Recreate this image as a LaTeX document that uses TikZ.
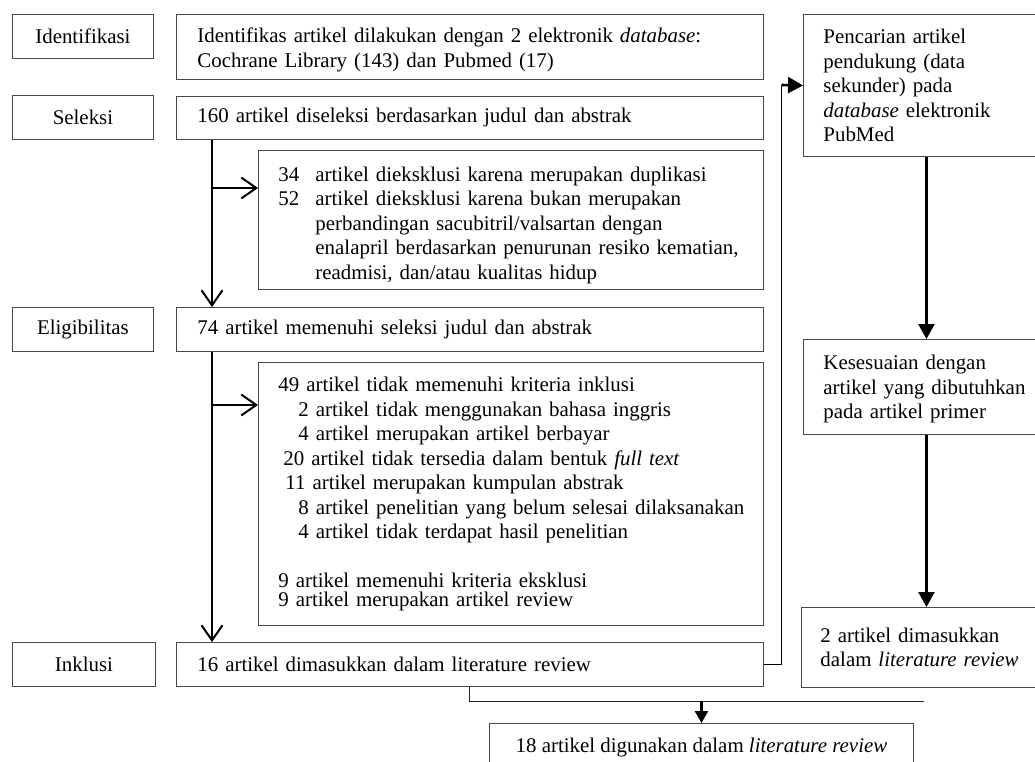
\documentclass[tikz,border=0pt]{standalone}
\usepackage{fontspec}
\setmainfont{Liberation Serif}
\usetikzlibrary{arrows.meta}
\begin{document}
\begin{tikzpicture}[x=1pt,y=-1pt,
  font=\fontsize{20.9}{24.5}\selectfont,
  bx/.style={draw=black!72, line width=0.9pt, anchor=north west, inner ysep=0pt},
  lbl/.style={bx, inner xsep=0pt, align=center, text width=141pt, minimum width=141pt, minimum height=44pt},
  mainbox/.style={bx, inner xsep=21pt, text width=545pt, align=left, minimum width=587pt},
  exbox/.style={bx, inner xsep=20pt, text width=465pt, align=left, minimum width=505pt},
  sidebox/.style={bx, inner xsep=20pt, text width=206pt, align=left, minimum width=246pt},
  flowarrow/.style={line width=2pt, -{Straight Barb[length=15pt,width=21pt]}},
  solidarrow/.style={line width=2.6pt, -{Triangle[length=15pt,width=16pt]}},
  smallarrow/.style={line width=2.5pt, -{Triangle[length=12pt,width=13pt]}},
  thinline/.style={line width=1pt, draw=black!85}]
\useasboundingbox (0,0) rectangle (1035,762);
\fill[white] (0,0) rectangle (1035,762);

% stage labels
\node[lbl] (lid) at (12,14) {Identifikasi};
\node[lbl] (lsel) at (12,95) {Seleksi};
\node[lbl] (lel) at (12,307) {Eligibilitas};
\node[lbl, minimum width=143pt, text width=143pt] (linc) at (12,642) {Inklusi};

% main column
\node[mainbox, minimum height=65pt] (idm) at (176,14) {\rule{0pt}{21pt}Identifikas artikel dilakukan dengan 2 elektronik \textit{database}:\\Cochrane Library (143) dan Pubmed (17)};
\node[mainbox, minimum height=43pt] (selm) at (176,96) {160 artikel diseleksi berdasarkan judul dan abstrak};
\node[exbox, minimum height=139pt] (ex1) at (258,150) {\mbox{\rule{0pt}{25pt}\makebox[37pt][l]{34}artikel dieksklusi karena merupakan duplikasi}\\
\mbox{\makebox[37pt][l]{52}artikel dieksklusi karena bukan merupakan}\\
\mbox{\hspace*{37pt}perbandingan sacubitril/valsartan dengan}\\
\mbox{\hspace*{37pt}enalapril berdasarkan penurunan resiko kematian,}\\
\mbox{\hspace*{37pt}readmisi, dan/atau kualitas hidup}};
\node[mainbox, minimum height=44pt] (elm) at (176,307) {74 artikel memenuhi seleksi judul dan abstrak};
\node[exbox, minimum height=263pt] (ex2) at (258,362) {\mbox{49 artikel tidak memenuhi kriteria inklusi}\\
\mbox{\hspace*{20pt}2 artikel tidak menggunakan bahasa inggris}\\
\mbox{\hspace*{20pt}4 artikel merupakan artikel berbayar}\\
\mbox{\hspace*{5pt}20 artikel tidak tersedia dalam bentuk \textit{full text}}\\
\mbox{\hspace*{7pt}11 artikel merupakan kumpulan abstrak}\\
\mbox{\hspace*{20pt}8 artikel penelitian yang belum selesai dilaksanakan}\\
\mbox{\hspace*{20pt}4 artikel tidak terdapat hasil penelitian}\\[24pt]
\mbox{9 artikel memenuhi kriteria eksklusi}\\[-5.5pt]
\mbox{9 artikel merupakan artikel review}};
\node[mainbox, minimum height=44pt] (incm) at (176,642) {16 artikel dimasukkan dalam literature review};

% right column
\node[sidebox, minimum height=142pt] (pc) at (803,14) {Pencarian artikel\\pendukung (data\\sekunder) pada\\\textit{database} elektronik\\PubMed};
\node[sidebox, minimum height=95pt] (kes) at (803,339) {\rule{0pt}{19.5pt}Kesesuaian dengan\\\mbox{artikel yang dibutuhkan}\\pada artikel primer};
\node[sidebox, inner xsep=19pt, text width=212pt, minimum width=250pt, minimum height=80pt] (art2) at (801,607) {2 artikel dimasukkan\\dalam \textit{literature review}};

% final
\node[bx, inner xsep=0pt, minimum width=424pt, minimum height=48pt] (fin) at (489,723) {18 artikel digunakan dalam \textit{literature review}};

% connectors main column
\draw[flowarrow] ([xshift=36pt]selm.south west) -- ([xshift=36pt]elm.north west);
\draw[flowarrow] ([xshift=36pt]elm.south west) -- ([xshift=36pt]incm.north west);
\coordinate (b1) at (212,188);
\coordinate (b2) at (212,405);
\draw[flowarrow] (b1) -- (b1 -| ex1.west);
\draw[flowarrow] (b2) -- (b2 -| ex2.west);

% to right column
\coordinate (turn) at (781.5,85);
\draw[line width=1pt] (incm.east) -| (turn);
\draw[solidarrow] (turn) -- (pc.west);
\draw[solidarrow] (pc.south) -- (kes.north);
\draw[solidarrow] (kes.south) -- (art2.north);

% to final
\coordinate (hend) at (924,701);
\draw[thinline] (incm.south) |- (hend);
\draw[smallarrow] (fin.north |- hend) -- (fin.north);
\end{tikzpicture}
\end{document}
